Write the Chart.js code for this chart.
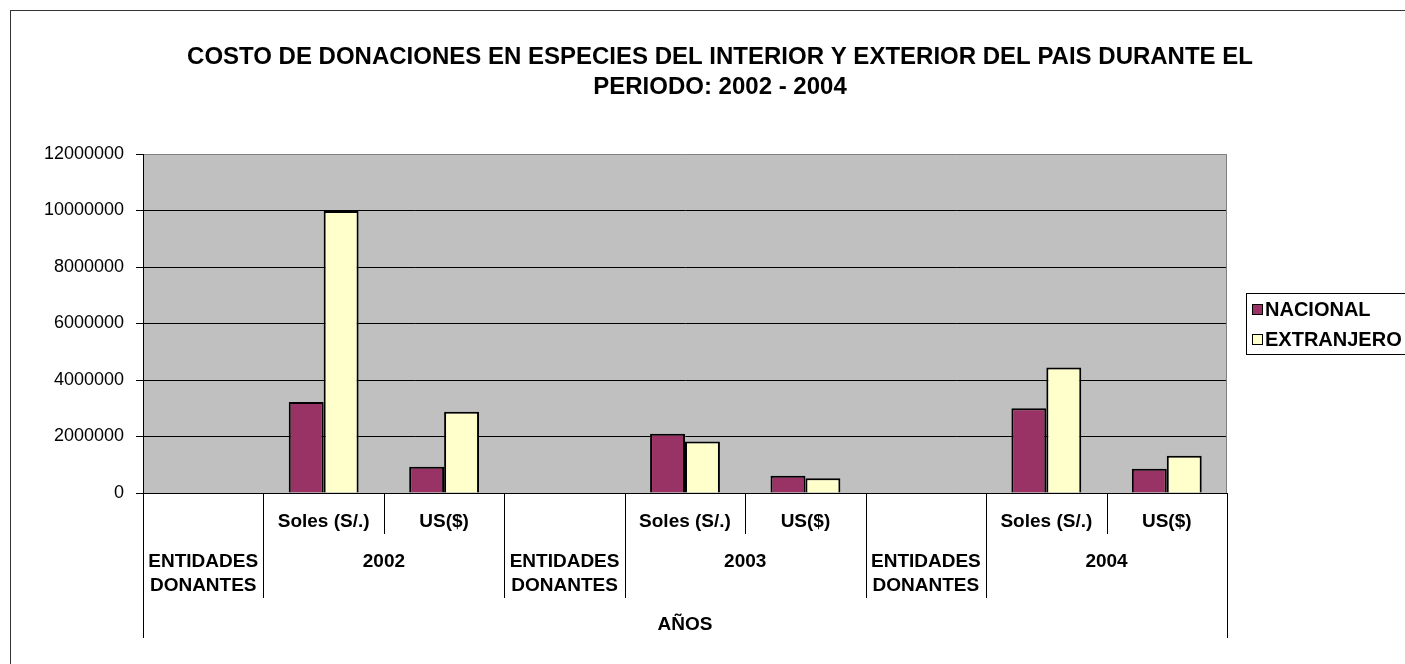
<!DOCTYPE html>
<html lang="es">
<head>
<meta charset="UTF-8">
<title>Costo de donaciones en especies 2002 - 2004</title>
<script src="https://cdn.jsdelivr.net/npm/chart.js"></script>
<style>
    body {
        margin: 0;
        background-color: #ffffff;
    }
    #contenedor {
        width: 1405px;
        height: 664px;
    }
</style>
</head>
<body>
<div id="contenedor">
    <canvas id="grafico" width="1405" height="664"></canvas>
</div>
<script>
    // Datos del grafico
    const titulo = ['COSTO DE DONACIONES EN ESPECIES DEL INTERIOR Y EXTERIOR DEL PAIS DURANTE EL', 'PERIODO: 2002 - 2004'];
    const subcategorias = ['', 'Soles (S/.)', 'US($)', '', 'Soles (S/.)', 'US($)', '', 'Soles (S/.)', 'US($)'];
    const grupos = ['ENTIDADES DONANTES', '2002', 'ENTIDADES DONANTES', '2003', 'ENTIDADES DONANTES', '2004'];
    const gruposSpan = [1, 2, 1, 2, 1, 2];
    const tituloEje = 'AÑOS';
    const series = ['NACIONAL', 'EXTRANJERO'];
    const nacional = [null, 3220000, 930000, null, 2100000, 610000, null, 3000000, 860000];
    const extranjero = [null, 9980000, 2880000, null, 1820000, 520000, null, 4440000, 1320000];
    const colores = ['#993366', '#FFFFCC'];
    const yTicks = [0, 2000000, 4000000, 6000000, 8000000, 10000000, 12000000];

    const fuente = 'Arial, "Liberation Sans", sans-serif';
    Chart.defaults.font.family = fuente;
    Chart.defaults.color = '#000';

    // fondo gris del area y marco exterior
    const fondo = {
        id: 'fondo',
        beforeDraw(chart) {
            const { ctx, chartArea: a } = chart;
            ctx.save();
            ctx.fillStyle = '#ffffff';
            ctx.fillRect(0, 0, chart.width, chart.height);
            ctx.strokeStyle = '#333333';
            ctx.lineWidth = 1;
            ctx.strokeRect(10.5, 10.5, chart.width + 40, chart.height + 40);
            ctx.fillStyle = '#c0c0c0';
            ctx.fillRect(a.left, a.top, a.right - a.left, a.bottom - a.top);
            ctx.restore();
        },
        beforeDatasetsDraw(chart) {
            const { ctx, chartArea: a } = chart;
            ctx.save();
            ctx.strokeStyle = '#808080';
            ctx.lineWidth = 1;
            ctx.beginPath();
            ctx.moveTo(Math.round(a.right) - 0.5, a.top);
            ctx.lineTo(Math.round(a.right) - 0.5, a.bottom);
            ctx.stroke();
            ctx.restore();
        }
    };

    // etiquetas del eje x en varios niveles
    const ejeMultinivel = {
        id: 'ejeMultinivel',
        afterDraw(chart) {
            const x = chart.scales.x;
            const ctx = chart.ctx;
            const y0 = chart.chartArea.bottom;
            const paso = x.getPixelForValue(1) - x.getPixelForValue(0);
            const borde = i => x.getPixelForValue(i) - paso / 2;

            const limites = new Set();
            let acc = 0;
            gruposSpan.forEach(s => { acc += s; limites.add(acc); });

            ctx.save();
            ctx.strokeStyle = '#000';
            ctx.lineWidth = 1;
            for (let i = 0; i <= subcategorias.length; i++) {
                let largo = 41;
                if (i === 0 || i === subcategorias.length) largo = 145;
                else if (limites.has(i)) largo = 105;
                const px = Math.round(borde(i)) + 0.5;
                ctx.beginPath();
                ctx.moveTo(px, y0);
                ctx.lineTo(px, y0 + largo);
                ctx.stroke();
            }

            ctx.fillStyle = '#000';
            ctx.font = 'bold 19px ' + fuente;
            ctx.textAlign = 'center';
            ctx.textBaseline = 'middle';
            subcategorias.forEach((t, i) => {
                if (t) ctx.fillText(t, x.getPixelForValue(i), y0 + 29);
            });

            let inicio = 0;
            grupos.forEach((g, j) => {
                const fin = inicio + gruposSpan[j];
                const cx = (borde(inicio) + borde(fin)) / 2;
                const lineas = subcategorias[inicio] === '' && gruposSpan[j] === 1 ? g.split(' ') : [g];
                lineas.forEach((l, k) => ctx.fillText(l, cx, y0 + 69 + k * 24));
                inicio = fin;
            });

            ctx.fillText(tituloEje, (x.left + x.right) / 2, y0 + 132);
            ctx.restore();
        }
    };

    // leyenda con recuadro
    const leyenda = {
        id: 'leyenda',
        afterDraw(chart) {
            const { ctx, chartArea: a } = chart;
            const cy = (a.top + a.bottom) / 2;
            const x0 = Math.round(a.right) + 19;
            ctx.save();
            ctx.strokeStyle = '#000';
            ctx.lineWidth = 1;
            ctx.strokeRect(x0 + 0.5, Math.round(cy - 31) + 0.5, 300, 61);
            ctx.font = 'bold 20px ' + fuente;
            ctx.textAlign = 'left';
            ctx.textBaseline = 'middle';
            chart.data.datasets.forEach((ds, i) => {
                const yc = Math.round(cy - 15 + i * 30);
                ctx.fillStyle = ds.backgroundColor;
                ctx.fillRect(x0 + 6, yc - 5, 11, 11);
                ctx.strokeRect(x0 + 6.5, yc - 4.5, 10, 10);
                ctx.fillStyle = '#000';
                ctx.fillText(ds.label, x0 + 19, yc + 1);
            });
            ctx.restore();
        }
    };

    new Chart(document.getElementById('grafico'), {
        type: 'bar',
        data: {
            labels: subcategorias,
            datasets: [
                {
                    label: series[0],
                    data: nacional,
                    backgroundColor: colores[0],
                    borderColor: '#000',
                    borderWidth: 2,
                    categoryPercentage: 0.58,
                    barPercentage: 1
                },
                {
                    label: series[1],
                    data: extranjero,
                    backgroundColor: colores[1],
                    borderColor: '#000',
                    borderWidth: 2,
                    categoryPercentage: 0.58,
                    barPercentage: 1
                }
            ]
        },
        options: {
            responsive: false,
            animation: false,
            devicePixelRatio: 1,
            layout: { padding: { left: 35, right: 0, top: 0, bottom: 0 } },
            plugins: {
                legend: { display: false },
                tooltip: { enabled: false },
                title: {
                    display: true,
                    text: titulo,
                    color: '#000',
                    font: { size: 24, weight: 'bold', lineHeight: 1.25 },
                    padding: { top: 42, bottom: 52 }
                }
            },
            scales: {
                x: {
                    grid: { display: false },
                    border: { display: true, color: '#000', width: 1 },
                    ticks: { display: false },
                    afterFit(scale) { scale.height = 171; }
                },
                y: {
                    min: yTicks[0],
                    max: yTicks[yTicks.length - 1],
                    border: { color: '#000', width: 1 },
                    grid: {
                        color: c => (c.tick && c.tick.value === yTicks[yTicks.length - 1]) ? '#808080' : '#000',
                        tickColor: '#000',
                        tickLength: 7
                    },
                    ticks: {
                        stepSize: yTicks[1] - yTicks[0],
                        padding: 12,
                        color: '#000',
                        font: { size: 18 },
                        callback: v => String(v)
                    },
                    afterFit(scale) { scale.width = 108; }
                },
                espacio: {
                    type: 'linear',
                    position: 'right',
                    display: true,
                    grid: { display: false, drawTicks: false },
                    ticks: { display: false },
                    border: { display: false },
                    afterFit(scale) { scale.width = 178; }
                }
            }
        },
        plugins: [fondo, ejeMultinivel, leyenda]
    });
</script>
</body>
</html>
